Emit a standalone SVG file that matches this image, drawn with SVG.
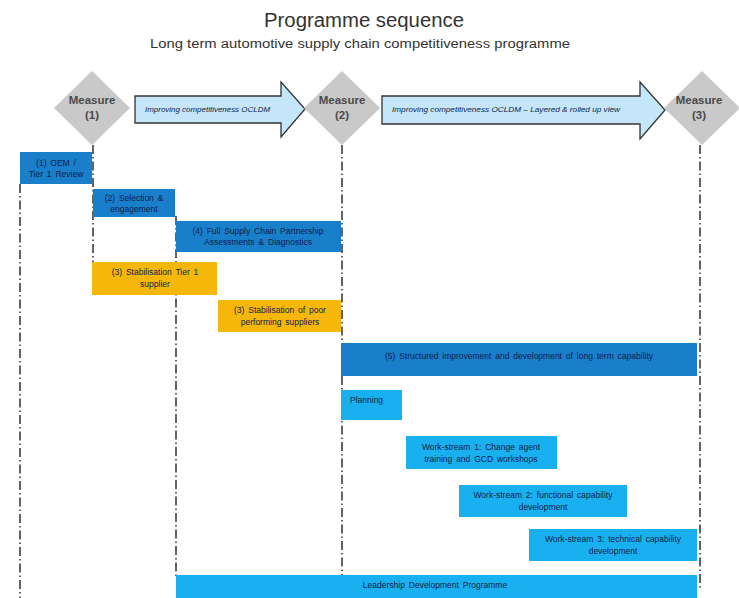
<svg xmlns="http://www.w3.org/2000/svg" width="739" height="598" viewBox="0 0 739 598">
<style>
.t{font-family:"Liberation Sans",Arial,sans-serif;fill:#333}
.m{font-family:"Liberation Sans",Arial,sans-serif;font-size:11.5px;font-weight:bold;fill:#4a4a4a;text-anchor:middle}
.d{fill:#c9c9c9}
.bt{font-family:"Liberation Sans",Arial,sans-serif;font-size:8.5px;word-spacing:1.5px;fill:#0d1d4a;text-anchor:middle}
.st{text-anchor:start}
.at{font-family:"Liberation Sans",Arial,sans-serif;font-size:7px;font-style:italic;fill:#0d1d4a}
.db{fill:#1a7fca}
.lb{fill:#19b0ef}
.or{fill:#f5b80a}
.ar{fill:#c4e6f8;stroke:#333;stroke-width:1.3}
.v{stroke:#222;stroke-width:1.4;fill:none;stroke-dasharray:9 3 1.5 3}
</style>
<rect width="739" height="598" fill="#fff"/>
<text class="t" x="364" y="27" font-size="20" text-anchor="middle" textLength="200" lengthAdjust="spacingAndGlyphs">Programme  sequence</text>
<text class="t" x="360" y="48" font-size="12" text-anchor="middle" textLength="420" lengthAdjust="spacingAndGlyphs">Long term automotive supply chain competitiveness programme</text>
<g id="connectors">
<line class="v" x1="20" y1="184" x2="20" y2="598"/>
<line class="v" x1="93" y1="145" x2="93" y2="264"/>
<line class="v" x1="176" y1="216" x2="176" y2="576"/>
<line class="v" x1="342" y1="145" x2="342" y2="576"/>
<line class="v" x1="700" y1="145" x2="700" y2="590"/>
</g>
<g id="arrow1">
<polygon class="ar" points="135,96 281,96 281,82 305,109 281,137 281,123 135,123"/>
<text class="at" x="145" y="112" textLength="125" lengthAdjust="spacingAndGlyphs">Improving  competitiveness  OCLDM</text>
</g>
<g id="arrow2">
<polygon class="ar" points="382,96 640,96 640,82 665,110 640,139 640,124 382,124"/>
<text class="at" x="392" y="112" textLength="228" lengthAdjust="spacingAndGlyphs">Improving  competitiveness  OCLDM – Layered &amp; rolled  up view</text>
</g>
<g id="measure1">
<polygon class="d" points="92,71 130,108 92,145 54,108"/>
<text class="m" x="92" y="104">Measure</text>
<text class="m" x="92" y="119">(1)</text>
</g>
<g id="measure2">
<polygon class="d" points="342,71 380,108 342,145 304,108"/>
<text class="m" x="342" y="104">Measure</text>
<text class="m" x="342" y="119">(2)</text>
</g>
<g id="measure3">
<polygon class="d" points="702,71 740,108 702,145 664,108"/>
<text class="m" x="699" y="104">Measure</text>
<text class="m" x="699" y="119">(3)</text>
</g>
<g id="box1">
<rect class="db" x="20" y="152" width="72" height="32"/>
<text class="bt" x="56" y="166">(1) OEM /</text>
<text class="bt" x="56" y="177">Tier 1 Review</text>
</g>
<g id="box2">
<rect class="db" x="93" y="189" width="82" height="28"/>
<text class="bt" x="134" y="201">(2)  Selection  &amp;</text>
<text class="bt" x="134" y="212">engagement</text>
</g>
<g id="box3">
<rect class="db" x="176" y="221" width="165" height="31"/>
<text class="bt" x="258" y="234">(4) Full Supply  Chain  Partnership</text>
<text class="bt" x="258" y="245">Assessments &amp; Diagnostics</text>
</g>
<g id="box4">
<rect class="or" x="92" y="262" width="125" height="33"/>
<text class="bt" x="155" y="275">(3) Stabilisation  Tier 1</text>
<text class="bt" x="155" y="287">supplier</text>
</g>
<g id="box5">
<rect class="or" x="218" y="300" width="123" height="32"/>
<text class="bt" x="280" y="313">(3) Stabilisation  of  poor</text>
<text class="bt" x="280" y="325">performing  suppliers</text>
</g>
<g id="box6">
<rect class="db" x="341" y="343" width="356" height="33"/>
<text class="bt" x="519" y="359">(5) Structured improvement  and development  of long  term capability</text>
</g>
<g id="box7">
<rect class="lb" x="341" y="390" width="61" height="30"/>
<text class="bt st" x="350" y="403">Planning</text>
</g>
<g id="box8">
<rect class="lb" x="406" y="436" width="151" height="33"/>
<text class="bt" x="481" y="450">Work-stream  1: Change  agent</text>
<text class="bt" x="481" y="462">training and GCD workshops</text>
</g>
<g id="box9">
<rect class="lb" x="459" y="485" width="168" height="32"/>
<text class="bt" x="543" y="498">Work-stream  2: functional  capability</text>
<text class="bt" x="543" y="510">development</text>
</g>
<g id="box10">
<rect class="lb" x="529" y="529" width="168" height="32"/>
<text class="bt" x="613" y="542">Work-stream  3: technical  capability</text>
<text class="bt" x="613" y="554">development</text>
</g>
<g id="box11">
<rect class="lb" x="176" y="575" width="521" height="23"/>
<text class="bt" x="435" y="588">Leadership  Development  Programme</text>
</g>
</svg>
